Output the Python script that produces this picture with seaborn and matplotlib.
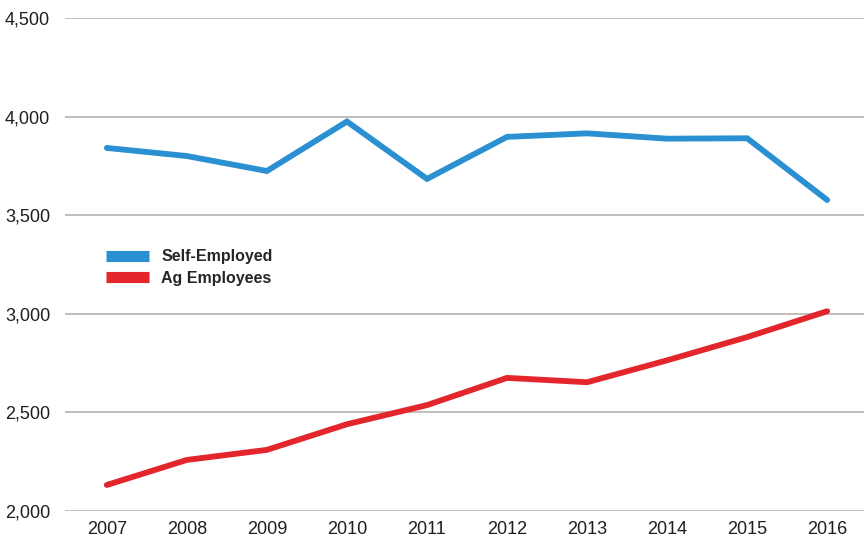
import pandas as pd
import matplotlib
matplotlib.use("Agg")
import matplotlib.pyplot as plt
from matplotlib.ticker import FuncFormatter
from matplotlib.lines import Line2D
import seaborn as sns

# Data
years = [2007, 2008, 2009, 2010, 2011, 2012, 2013, 2014, 2015, 2016]
self_employed = [3841, 3800, 3724, 3975, 3684, 3897, 3915, 3888, 3890, 3577]
ag_employees = [2132, 2259, 2310, 2440, 2537, 2675, 2653, 2764, 2882, 3013]
series_names = ["Self-Employed", "Ag Employees"]
colors = ["#2a90d1", "#e3262b"]

df = pd.DataFrame({
    "year": years * 2,
    "value": self_employed + ag_employees,
    "series": [series_names[0]] * len(years) + [series_names[1]] * len(years),
})

sns.set_style("white")
plt.rcParams["font.family"] = ["Liberation Sans", "DejaVu Sans"]

fig = plt.figure(figsize=(8.64, 5.4), dpi=100)
ax = fig.add_axes([0.075, 0.0537, 0.925, 0.913])

sns.lineplot(data=df, x="year", y="value", hue="series",
             palette=dict(zip(series_names, colors)),
             linewidth=4.2, ax=ax, legend=False,
             solid_capstyle="round", solid_joinstyle="miter")

ax.set_xlim(2006.475, 2016.46)
ax.set_ylim(2000, 4500)
ax.set_xticks(years)
ax.set_yticks(range(2000, 4501, 500))
ax.yaxis.set_major_formatter(FuncFormatter(lambda v, p: f"{int(v):,}"))
ax.grid(axis="y", color="#b3aca8", linewidth=1.1)
ax.set_axisbelow(True)
for s in ax.spines.values():
    s.set_visible(False)
ax.tick_params(axis="both", length=0, labelsize=13, colors="#1e1e1e")
ax.tick_params(axis="y", pad=10.5)
ax.tick_params(axis="x", pad=7)
ax.set_xlabel("")
ax.set_ylabel("")

# Legend with thick bar handles
handles = [Line2D([0], [0], color=c, linewidth=8, solid_capstyle="butt") for c in colors]
leg = ax.legend(handles, series_names, loc="upper left",
                bbox_to_anchor=(0.034, 0.56), frameon=False,
                prop={"weight": "bold", "size": 11.5},
                handlelength=2.7, handletextpad=0.75, labelspacing=0.4)

fig.savefig("out.png", dpi=100)
